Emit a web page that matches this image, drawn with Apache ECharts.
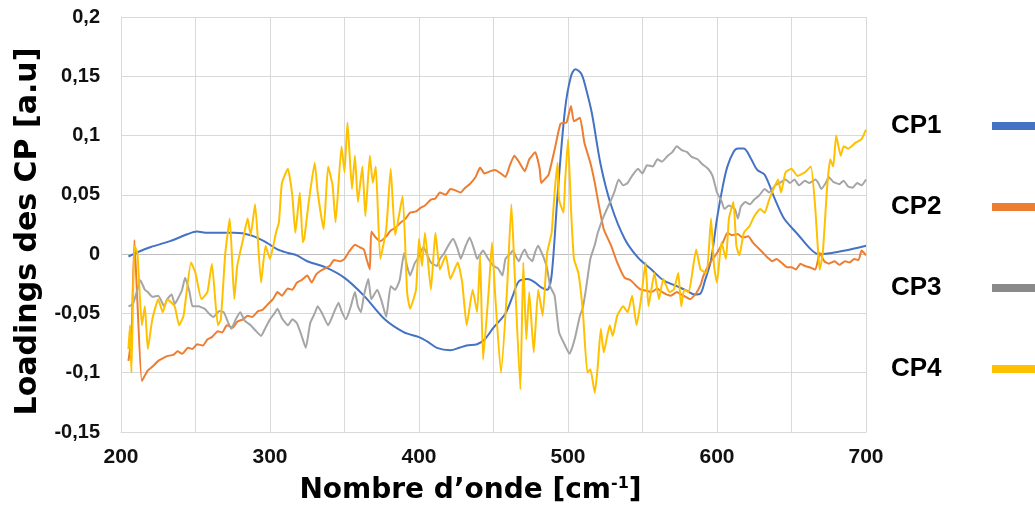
<!DOCTYPE html>
<html><head><meta charset="utf-8">
<script src="https://cdn.jsdelivr.net/npm/echarts@6/dist/echarts.min.js"></script>
<style>html,body{margin:0;padding:0;background:#fff}#c{width:1035px;height:513px}</style>
</head><body><div id="c"></div>
<script>
const seriesNames = ['CP1', 'CP2', 'CP3', 'CP4'];
const seriesColors = ['#4472C4', '#ED7D31', '#A5A5A5', '#FFC000'];
const legendColors = ['#4472C4', '#ED7D31', '#8a8a8a', '#FFC000'];

const cp1 = [[205,-0.002],[210,0.001],[220,0.006],[233,0.011],[245,0.017],[251,0.019],[258,0.018],[265,0.018],[276,0.018],[287,0.016],[296,0.011],[305,0.004],[312,0.001],[318,-0.001],[325,-0.006],[337,-0.011],[350,-0.020],[363,-0.035],[377,-0.055],[390,-0.066],[400,-0.070],[406,-0.074],[412,-0.079],[421,-0.081],[427,-0.079],[432,-0.077],[439,-0.076],[444,-0.072],[450,-0.062],[458,-0.050],[463,-0.035],[467,-0.023],[473,-0.021],[478,-0.024],[482,-0.028],[486,-0.030],[489,-0.018],[493,0.050],[498,0.122],[502,0.150],[505,0.156],[509,0.152],[512,0.140],[516,0.119],[522,0.075],[529,0.041],[538,0.013],[547,-0.003],[556,-0.013],[564,-0.022],[573,-0.027],[580,-0.031],[585,-0.034],[589,-0.033],[592,-0.022],[596,-0.005],[600,0.030],[604,0.058],[607,0.074],[611,0.086],[614,0.089],[618,0.089],[623,0.080],[627,0.071],[632,0.067],[639,0.046],[645,0.030],[654,0.017],[663,0.004],[668,0.000],[677,0.001],[686,0.003],[693,0.005],[700,0.007]];

const cp2 = [[205,-0.090],[207,-0.070],[209,0.012],[211,-0.040],[214,-0.107],[218,-0.098],[221,-0.095],[225,-0.090],[228,-0.088],[231,-0.086],[235,-0.085],[238,-0.082],[241,-0.084],[245,-0.079],[248,-0.080],[251,-0.076],[255,-0.077],[258,-0.072],[261,-0.070],[265,-0.065],[268,-0.066],[271,-0.060],[275,-0.062],[278,-0.057],[282,-0.055],[285,-0.052],[288,-0.053],[292,-0.048],[295,-0.047],[298,-0.043],[302,-0.038],[305,-0.032],[308,-0.035],[312,-0.029],[315,-0.030],[318,-0.024],[321,-0.022],[325,-0.018],[328,-0.024],[331,-0.017],[334,-0.014],[337,-0.012],[340,-0.010],[343,-0.005],[347,-0.006],[350,-0.004],[353,0.002],[357,0.008],[360,0.006],[363,0.004],[365,-0.005],[367,-0.013],[368,0.019],[371,0.014],[374,0.011],[378,0.015],[381,0.020],[384,0.022],[388,0.027],[391,0.030],[394,0.035],[398,0.036],[401,0.039],[404,0.041],[408,0.046],[411,0.047],[414,0.052],[418,0.050],[421,0.055],[424,0.054],[428,0.052],[431,0.056],[434,0.059],[438,0.065],[441,0.073],[444,0.068],[448,0.070],[451,0.071],[455,0.068],[458,0.065],[461,0.075],[464,0.083],[467,0.078],[471,0.070],[474,0.080],[478,0.086],[481,0.072],[482,0.060],[485,0.064],[487,0.067],[491,0.088],[495,0.110],[499,0.111],[502,0.125],[504,0.112],[508,0.115],[511,0.094],[515,0.077],[518,0.060],[520,0.046],[524,0.021],[529,0.007],[533,-0.007],[538,-0.020],[542,-0.022],[546,-0.027],[549,-0.030],[553,-0.031],[556,-0.032],[560,-0.029],[562,-0.031],[566,-0.034],[569,-0.035],[573,-0.032],[576,-0.034],[579,-0.036],[582,-0.038],[586,-0.033],[589,-0.026],[591,-0.018],[595,-0.008],[600,0.001],[604,0.010],[607,0.018],[610,0.016],[614,0.017],[617,0.014],[621,0.015],[624,0.010],[627,0.006],[631,0.001],[634,-0.003],[637,-0.006],[640,-0.004],[644,-0.008],[647,-0.011],[650,-0.011],[653,-0.013],[656,-0.008],[659,-0.010],[662,-0.011],[666,-0.013],[669,0.001],[672,-0.006],[675,-0.008],[679,-0.006],[682,-0.009],[686,-0.006],[689,-0.007],[692,-0.004],[695,-0.005],[697,0.003],[700,-0.001]];

const cp3 = [[205,-0.044],[208,-0.042],[211,-0.030],[213,-0.022],[216,-0.030],[218,-0.032],[221,-0.036],[225,-0.035],[229,-0.044],[231,-0.038],[234,-0.034],[236,-0.042],[238,-0.038],[241,-0.030],[243,-0.020],[246,-0.032],[248,-0.044],[252,-0.044],[256,-0.046],[259,-0.050],[262,-0.053],[266,-0.048],[269,-0.049],[272,-0.058],[274,-0.063],[277,-0.055],[280,-0.049],[283,-0.056],[287,-0.060],[290,-0.064],[294,-0.069],[297,-0.062],[300,-0.055],[303,-0.050],[305,-0.046],[308,-0.054],[312,-0.060],[315,-0.055],[318,-0.058],[321,-0.068],[324,-0.079],[327,-0.058],[330,-0.050],[332,-0.044],[335,-0.050],[339,-0.060],[342,-0.052],[346,-0.041],[348,-0.048],[351,-0.055],[354,-0.045],[357,-0.032],[359,-0.044],[361,-0.049],[363,-0.035],[366,-0.021],[368,-0.038],[372,-0.030],[375,-0.040],[378,-0.053],[381,-0.027],[384,-0.030],[387,-0.022],[390,0.001],[392,-0.010],[394,-0.018],[397,-0.008],[399,-0.004],[403,0.006],[406,-0.002],[408,-0.007],[412,-0.010],[414,-0.004],[417,0.001],[420,0.008],[423,0.013],[426,0.004],[428,-0.004],[431,0.006],[434,0.014],[437,0.004],[439,-0.004],[443,0.003],[446,-0.003],[450,-0.010],[453,-0.012],[456,-0.018],[458,-0.004],[461,0.000],[463,0.003],[465,-0.002],[467,-0.006],[469,0.000],[471,0.004],[473,-0.002],[476,-0.006],[478,0.002],[480,0.007],[482,0.002],[484,-0.004],[486,-0.012],[488,-0.027],[491,-0.035],[494,-0.066],[498,-0.077],[501,-0.084],[503,-0.078],[505,-0.069],[508,-0.052],[510,-0.045],[512,-0.030],[515,-0.004],[518,0.008],[520,0.018],[524,0.032],[529,0.046],[531,0.052],[534,0.063],[537,0.058],[540,0.060],[543,0.066],[547,0.072],[550,0.068],[553,0.075],[557,0.074],[560,0.080],[563,0.078],[567,0.083],[570,0.086],[573,0.091],[576,0.088],[580,0.086],[583,0.082],[587,0.080],[590,0.076],[594,0.072],[597,0.066],[600,0.052],[603,0.045],[605,0.038],[608,0.041],[612,0.038],[614,0.030],[616,0.040],[619,0.044],[622,0.042],[625,0.046],[628,0.049],[632,0.055],[635,0.052],[639,0.058],[642,0.060],[646,0.063],[649,0.060],[652,0.063],[655,0.058],[659,0.062],[662,0.060],[666,0.063],[668,0.060],[670,0.055],[673,0.060],[675,0.065],[678,0.061],[682,0.059],[685,0.062],[688,0.057],[691,0.056],[694,0.060],[697,0.058],[700,0.063]];

const cp4 = [[205,-0.080],[206,-0.060],[207,-0.100],[209,0.007],[211,0.001],[214,-0.060],[216,-0.044],[218,-0.080],[221,-0.055],[225,-0.038],[228,-0.049],[231,-0.038],[236,-0.044],[239,-0.060],[242,-0.052],[247,-0.007],[250,-0.016],[254,-0.038],[258,-0.032],[261,-0.008],[265,-0.060],[267,-0.055],[270,0.001],[273,0.030],[276,-0.038],[278,-0.010],[282,0.013],[285,0.030],[287,0.016],[290,0.042],[294,-0.024],[297,0.007],[300,-0.004],[304,0.018],[306,0.027],[308,0.060],[312,0.072],[315,0.049],[317,0.018],[320,0.052],[322,0.010],[323,0.013],[326,0.044],[330,0.077],[332,0.052],[336,0.021],[339,0.074],[342,0.058],[344,0.027],[348,0.091],[350,0.069],[352,0.111],[355,0.055],[357,0.083],[359,0.044],[362,0.074],[364,0.032],[367,0.083],[369,0.060],[371,0.074],[374,-0.004],[378,0.021],[381,0.072],[384,0.016],[389,0.049],[392,-0.032],[394,-0.046],[398,-0.030],[400,0.013],[402,-0.010],[404,0.018],[408,-0.030],[411,0.018],[414,-0.013],[418,-0.001],[421,-0.021],[426,-0.007],[429,-0.024],[432,-0.060],[436,-0.030],[439,-0.049],[441,-0.001],[443,-0.089],[447,-0.027],[449,0.010],[451,-0.032],[455,-0.100],[459,-0.032],[462,0.042],[464,-0.010],[468,-0.114],[470,-0.007],[472,-0.072],[474,-0.032],[477,-0.083],[480,-0.030],[483,-0.052],[486,0.001],[489,0.018],[491,0.052],[493,0.077],[494,0.046],[497,0.035],[498,0.060],[500,0.097],[502,0.038],[504,-0.004],[507,-0.016],[510,-0.049],[513,-0.100],[515,-0.097],[518,-0.117],[520,-0.094],[522,-0.063],[524,-0.083],[528,-0.060],[530,-0.069],[533,-0.052],[537,-0.044],[540,-0.049],[543,-0.035],[546,-0.060],[549,-0.038],[552,-0.007],[554,-0.044],[558,-0.016],[561,-0.038],[564,-0.021],[568,-0.032],[571,-0.030],[574,-0.016],[576,-0.044],[578,-0.030],[581,-0.032],[586,0.004],[589,-0.013],[593,-0.016],[596,0.030],[598,-0.010],[600,-0.024],[603,0.010],[606,-0.004],[608,0.030],[611,0.044],[613,0.007],[615,-0.001],[618,0.018],[622,0.024],[625,0.032],[629,0.038],[632,0.035],[635,0.046],[639,0.058],[641,0.063],[643,0.052],[646,0.069],[650,0.072],[654,0.066],[659,0.069],[663,0.074],[666,0.038],[668,-0.001],[669,-0.013],[671,0.001],[674,0.058],[676,0.080],[678,0.074],[680,0.100],[683,0.083],[685,0.091],[688,0.089],[693,0.094],[697,0.097],[700,0.105]];

const xAxisTitle = 'Nombre d\u2019onde [cm{sup|-1}]';
const yAxisTitle = 'Loadings des CP [a.u]';
const xMin = 200, xMax = 700, xStep = 50, xLabelStep = 100;
const yMin = -0.15, yMax = 0.2, yStep = 0.05;

const allData = [cp1, cp2, cp3, cp4];

const chart = echarts.init(document.getElementById('c'), null, {renderer: 'canvas'});
const tickFont = {fontFamily: 'Liberation Sans', fontWeight: 'bold', color: '#111'};
const gridColor = '#d9d9d9';
const ySplitColors = [];
for (let i = 0; i <= Math.round((yMax - yMin) / yStep); i++) {
  const v = yMin + i * yStep;
  ySplitColors.push(Math.abs(v) < 1e-9 ? '#bfbfbf' : gridColor);
}

chart.setOption({
  animation: false,
  backgroundColor: '#fff',
  grid: {left: 121, right: 169, top: 17, bottom: 81, containLabel: false},
  legend: {
    orient: 'vertical', left: 886, top: 108, itemGap: 55, align: 'right',
    icon: 'rect', itemWidth: 60, itemHeight: 8, selectedMode: false,
    formatter: name => '{t|' + name + '}',
    textStyle: {
      fontFamily: 'Liberation Sans', fontWeight: 'bold', fontSize: 26, color: '#000',
      rich: {t: {fontFamily: 'Liberation Sans', fontWeight: 'bold', fontSize: 26, color: '#000', width: 96, lineHeight: 30, align: 'left'}}
    },
    data: seriesNames.map((n, i) => ({name: n, itemStyle: {color: legendColors[i]}}))
  },
  xAxis: {
    type: 'value', min: xMin, max: xMax, interval: xStep,
    name: xAxisTitle, nameLocation: 'middle', nameGap: 44,
    nameTextStyle: {
      fontFamily: 'DejaVu Sans', fontWeight: 'bold', fontSize: 28, color: '#000',
      padding: [0, 46, 0, 0],
      rich: {sup: {fontFamily: 'DejaVu Sans', fontWeight: 'bold', fontSize: 16, color: '#000', verticalAlign: 'top', padding: [0, 0, 14, 0]}}
    },
    axisLine: {show: true, onZero: false, lineStyle: {color: gridColor, width: 1}},
    axisTick: {show: false},
    axisLabel: Object.assign({fontSize: 21, margin: 15, formatter: v => (v % xLabelStep === 0 ? String(v) : '')}, tickFont),
    splitLine: {show: true, lineStyle: {color: gridColor, width: 1}}
  },
  yAxis: {
    type: 'value', min: yMin, max: yMax, interval: yStep,
    name: yAxisTitle, nameLocation: 'middle', nameGap: 78, nameRotate: 90,
    nameTextStyle: {fontFamily: 'DejaVu Sans', fontWeight: 'bold', fontSize: 30, color: '#000', padding: [0, 14, 0, 0]},
    axisLine: {show: true, lineStyle: {color: gridColor, width: 1}},
    axisTick: {show: false},
    axisLabel: Object.assign({fontSize: 20, margin: 21, formatter: v => String(Math.round(v * 100) / 100).replace('.', ',')}, tickFont),
    splitLine: {show: true, lineStyle: {color: ySplitColors, width: 1}}
  },
  series: seriesNames.map((n, i) => ({
    name: n, type: 'line', data: allData[i], showSymbol: false, symbol: 'none',
    smooth: i === 0 ? 0.3 : 0.15,
    lineStyle: {color: seriesColors[i], width: 2},
    itemStyle: {color: seriesColors[i]},
    z: 2 + i
  }))
});
</script>
</body></html>
